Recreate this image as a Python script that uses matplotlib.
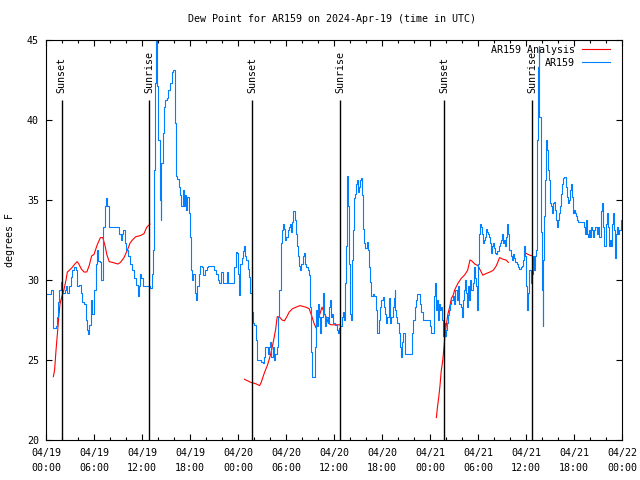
import numpy as np
import matplotlib
matplotlib.use('Agg')
import matplotlib.pyplot as plt

# hours since 04/19 00:00 UTC
obs_hours = [0.0, 0.6, 0.67, 0.88, 1.2, 1.33, 1.46, 1.67, 1.83, 2.0, 2.17, 2.33, 2.5, 2.67, 2.88,
             3.08, 3.29, 3.5, 3.71, 3.83, 4.13, 4.33, 4.54, 4.75, 4.96, 5.17, 5.29, 5.38, 5.58, 5.79,
             6.0, 6.21, 6.33, 6.5, 6.75, 6.83, 7.04, 7.17, 7.33, 7.5, 7.67, 7.88, 9.0, 9.17, 9.33,
             9.5, 9.67, 9.83, 10.0, 10.25, 10.5, 10.75, 11.0, 11.25, 11.5, 11.67, 11.75, 11.92, 12.08,
             12.25, 13.0, 13.2, 13.33, 13.5, 13.6, 13.75, 13.83, 14.0, 14.25, 14.33, 14.42, 14.58,
             14.75, 14.88, 15.08, 15.29, 15.5, 15.7, 15.9, 16.1, 16.25, 16.42, 16.58, 16.75, 16.92,
             17.08, 17.25, 17.38, 17.5, 17.67, 17.83, 18.0, 18.13, 18.25, 18.42, 18.6, 18.75, 18.9,
             19.08, 19.25, 19.46, 19.67, 19.83, 20.08, 20.3, 20.83, 21.0, 21.25, 21.5, 21.67, 21.9,
             22.1, 22.4, 22.6, 22.8, 23.3, 23.5, 23.7, 23.9, 24.0, 24.08, 24.17, 24.3, 24.46, 24.67,
             24.8, 24.92, 25.0, 25.2, 25.33, 25.5, 25.7, 25.83, 26.04, 26.25, 26.4, 26.67, 26.9,
             27.08, 27.25, 27.4, 27.58, 27.75, 27.92, 28.04, 28.17, 28.33, 28.5, 28.67, 28.83, 29.0,
             29.17, 29.33, 29.46, 29.58, 29.71, 29.83, 30.0, 30.2, 30.4, 30.54, 30.63, 30.75, 30.92,
             31.08, 31.25, 31.4, 31.54, 31.67, 31.8, 31.92, 32.08, 32.25, 32.38, 32.54, 32.7, 32.83,
             33.0, 33.13, 33.25, 33.6, 33.67, 33.75, 33.88, 34.0, 34.17, 34.3, 34.42, 34.58, 34.7,
             34.88, 35.0, 35.2, 35.42, 35.54, 35.67, 35.75, 35.88, 36.08, 36.33, 36.46, 36.58, 36.8,
             37.0, 37.13, 37.29, 37.42, 37.5, 37.58, 37.67, 37.75, 37.83, 37.96, 38.04, 38.17, 38.25,
             38.33, 38.46, 38.67, 38.79, 38.88, 39.0, 39.08, 39.25, 39.38, 39.5, 39.63, 39.75, 39.92,
             40.08, 40.2, 40.33, 40.5, 40.67, 40.83, 41.0, 41.17, 41.29, 41.42, 41.58, 41.75, 41.92,
             42.08, 42.21, 42.33, 42.5, 42.67, 42.83, 43.0, 43.17, 43.33, 43.46, 43.58, 43.67, 43.79,
             43.92, 44.08, 44.25, 44.42, 44.54, 44.67, 44.83, 44.92, 45.67, 45.79, 45.92, 46.08,
             46.25, 46.42, 46.67, 46.79, 46.92, 47.08, 47.75, 48.0, 48.17, 48.4, 48.5, 48.63, 48.71,
             48.83, 49.0, 49.13, 49.25, 49.42, 49.5, 49.63, 49.75, 49.83, 49.96, 50.13, 50.25, 50.38,
             50.54, 50.67, 50.83, 51.0, 51.17, 51.33, 51.5, 51.67, 51.83, 51.96, 52.08, 52.25, 52.38,
             52.5, 52.67, 52.79, 52.92, 53.04, 53.17, 53.33, 53.46, 53.58, 53.71, 53.83, 53.96, 54.08,
             54.2, 54.33, 54.46, 54.58, 54.71, 54.83, 54.96, 55.08, 55.2, 55.33, 55.46, 55.58, 55.71,
             55.83, 55.96, 56.08, 56.25, 56.42, 56.58, 56.75, 56.88, 57.0, 57.13, 57.29, 57.42, 57.54,
             57.67, 57.79, 57.92, 58.08, 58.25, 58.38, 58.5, 58.67, 58.83, 59.0, 59.17, 59.33, 59.5,
             59.63, 59.75, 59.88, 60.0, 60.13, 60.25, 60.42, 60.58, 60.71, 60.83, 60.96, 61.08, 61.21,
             61.33, 61.42, 61.5, 61.58, 61.67, 61.83, 61.92, 62.0, 62.08, 62.17, 62.25, 62.38, 62.5,
             62.63, 62.75, 62.88, 63.0, 63.13, 63.25, 63.38, 63.5, 63.63, 63.75, 63.88, 64.0, 64.13,
             64.25, 64.42, 64.54, 64.67, 64.79, 64.92, 65.04, 65.17, 65.29, 65.42, 65.54, 65.67,
             65.79, 65.92, 66.04, 66.17, 66.29, 66.42, 66.54, 66.83, 67.08, 67.25, 67.38, 67.5, 67.63,
             67.75, 67.88, 68.0, 68.13, 68.25, 68.38, 68.5, 68.63, 68.75, 68.88, 69.0, 69.17, 69.33,
             69.46, 69.58, 69.71, 69.88, 70.0, 70.13, 70.25, 70.38, 70.5, 70.67, 70.79, 70.92, 71.04,
             71.17, 71.29, 71.42, 71.54, 71.67, 71.83, 71.96, 72.0]
obs_dewpt = [29.1, 29.1, 29.4, 27.0, 27.1, 27.7, 28.6, 29.4, 29.9, 29.2, 29.2, 29.4, 29.6, 29.2, 29.6,
             30.2, 30.6, 30.8, 30.6, 29.6, 29.7, 29.2, 28.6, 28.5, 27.5, 26.9, 26.6, 27.2, 28.75, 27.9,
             29.4, 31.0, 31.9, 31.2, 31.1, 30.0, 30.0, 33.3, 34.6, 35.1, 34.6, 33.3, 33.3, 32.9, 32.5,
             32.9, 33.1, 32.3, 31.9, 31.5, 31.0, 30.6, 30.1, 29.7, 29.0, 29.6, 30.4, 30.1, 29.6,
             29.6, 29.5, 30.4, 31.9, 36.9, 42.3, 45.0, 42.1, 38.75, 35.0, 33.75, 37.3, 39.2,
             40.8, 41.25, 41.35, 41.9, 42.3, 43.0, 43.1, 39.8, 36.5, 36.3, 35.8, 35.3, 34.6,
             35.6, 34.6, 35.3, 34.4, 35.2, 34.2, 32.7, 30.6, 30.0, 30.4, 29.2, 28.75, 29.6,
             30.4, 30.9, 30.8, 30.3, 30.6, 30.8, 30.9, 30.9, 30.6, 30.4, 30.0, 29.8, 30.5,
             29.8, 29.8, 30.5, 29.8, 29.8, 30.8, 31.75, 31.7, 30.4, 29.8, 29.06, 31.0, 31.4, 31.8,
             32.1, 31.5, 31.25, 30.7, 30.2, 29.2, 28.0, 27.3, 27.2, 26.25, 25.0, 25.0, 24.9,
             24.8, 25.2, 25.8, 25.8, 25.4, 25.8, 26.1, 25.2, 25.8, 25.0, 25.4, 25.8, 27.7,
             29.4, 32.3, 33.1, 33.5, 33.2, 32.5, 32.7, 33.1, 33.3, 33.5, 33.0, 33.6, 34.3,
             33.75, 32.9, 32.1, 31.5, 30.9, 30.6, 31.0, 31.5, 31.7, 31.0, 30.8, 30.6, 30.3,
             28.3, 25.5, 23.95, 24.0, 25.8, 28.1, 27.1, 28.5, 27.7, 26.7, 27.7, 29.2, 27.9,
             27.1, 27.7, 27.3, 28.3, 28.75, 27.7, 27.9, 27.3, 27.2, 26.9, 26.7, 27.0, 27.1,
             27.7, 28.0, 27.5, 29.8, 32.1, 34.4, 36.5, 34.6, 31.0, 28.75, 27.9, 27.5, 31.25,
             33.1, 35.1, 35.4, 36.0, 36.25, 35.5, 35.8, 36.25, 36.4, 35.3, 33.2, 32.3, 32.0,
             32.4, 31.9, 30.8, 29.9, 29.0, 29.1, 29.0, 29.0, 28.1, 26.7, 27.5, 28.3, 28.75,
             28.95, 28.3, 27.9, 27.3, 27.7, 28.85, 27.3, 27.7, 28.3, 28.85, 29.4, 28.1, 27.7,
             27.3, 26.7, 25.8, 25.2, 26.1, 26.7, 26.25, 25.4, 25.4, 26.7, 27.5, 28.3,
             28.75, 29.1, 29.1, 28.5, 28.0, 27.5, 27.5, 27.1, 26.7, 26.7, 29.0, 29.8, 28.1,
             28.75, 27.5, 28.5, 28.1, 28.3, 27.5, 26.5, 27.3, 26.5, 26.9, 27.3, 27.8, 28.1,
             28.5, 28.75, 29.0, 28.5, 29.4, 28.75, 29.6, 28.5, 28.3, 27.7, 28.75, 29.4, 30.0,
             29.2, 28.3, 29.6, 28.75, 30.0, 29.4, 29.8, 30.8, 30.1, 29.6, 28.1, 31.0, 32.9,
             33.5, 33.3, 32.9, 32.3, 32.5, 32.7, 33.2, 33.0, 32.9, 32.7, 32.3, 31.7, 32.1,
             32.3, 32.0, 31.7, 31.6, 31.8, 32.1, 32.3, 32.5, 32.9, 32.3, 32.5, 32.1, 32.7,
             33.5, 32.9, 31.9, 31.5, 31.25, 31.6, 31.35, 31.15, 31.0, 30.8, 30.7, 30.8, 30.9,
             31.25, 32.1, 31.5, 29.6, 28.1, 29.2, 30.6, 29.8, 30.4, 31.5, 30.6, 31.5, 31.9,
             33.5, 38.75, 43.3, 44.6, 40.2, 36.9, 33.0, 29.4, 27.1, 31.25, 34.0, 36.25, 38.75,
             38.1, 36.9, 36.25, 34.8, 34.6, 34.2, 34.8, 34.9, 34.4, 33.75, 33.3, 33.75, 34.2,
             34.6, 35.4, 36.0, 36.35, 36.45, 36.45, 35.8, 35.2, 34.8, 35.0, 35.6, 36.0,
             35.2, 34.2, 34.4, 34.2, 34.0, 33.75, 33.6, 33.6, 33.6, 33.3, 32.9, 33.75, 32.9,
             32.7, 33.1, 32.7, 33.3, 33.1, 32.7, 33.1, 33.3, 33.3, 32.9, 33.3, 32.7, 34.3,
             34.8, 33.3, 32.1, 32.1, 33.5, 34.2, 33.3, 32.1, 32.5, 32.1, 33.5, 34.2, 33.1,
             31.35, 32.9, 33.3, 32.9, 33.1, 33.75, 33.3, 33.6]

# analysis, gaps where no analysis was available
ana_hours = [0.92, 1.08, 1.25, 1.4, 1.6, 1.75, 2.0, 2.25, 2.5, 2.67, 2.9, 3.3, 3.6, 3.9, 4.1, 4.4,
             4.75, 5.1, 5.4, 5.7, 6.0, 6.4, 6.8, 7.1, 7.4, 7.6, 7.9, 8.3, 9.0, 9.3, 9.75, 10.2, 10.5,
             10.8, 11.2, 11.6, 11.9, 12.25, 12.6, 13.0, 18.0,
             24.8, 25.2, 25.6, 26.0, 26.3, 26.7, 26.9, 27.3, 27.7, 28.1, 28.4, 28.7, 28.9, 29.17,
             29.5, 29.8, 30.1, 30.4, 30.8, 31.25, 31.75, 32.1, 32.5, 32.9, 33.25, 33.5, 33.75, 34.0,
             34.25, 34.5, 34.67, 34.8, 35.1, 35.3, 35.6, 36.0, 36.8, 42.0,
             48.8, 48.92, 49.1, 49.25, 49.4, 49.6, 49.75, 49.9, 50.1, 50.25, 50.5, 50.67, 50.9, 51.1,
             51.5, 51.9, 52.3, 52.7, 53.0, 53.2, 53.6, 54.0, 54.3, 54.6, 55.0, 55.5, 55.9, 56.3, 56.7,
             57.1, 57.5, 57.8, 59.0,
             59.9, 60.25, 60.5, 60.8]
ana_dewpt = [23.96, 24.4, 25.6, 26.5, 27.7, 28.5, 29.0, 29.4, 30.0, 30.5, 30.6, 30.8, 31.0, 31.15,
             31.0, 30.7, 30.5, 30.5, 30.9, 31.5, 31.6, 32.2, 32.65, 32.65, 32.1, 31.6, 31.15, 31.1,
             31.0, 31.1, 31.4, 31.9, 32.3, 32.5, 32.7, 32.75, 32.8, 32.9, 33.3, 33.5, np.nan,
             23.8, 23.7, 23.6, 23.55, 23.5, 23.4, 23.6, 24.2, 24.7, 25.4, 26.1, 26.9, 27.7, 27.7,
             27.5, 27.45, 27.7, 28.0, 28.2, 28.3, 28.4, 28.35, 28.3, 28.2, 27.7, 27.3, 27.0, 27.6,
             27.9, 28.3, 28.1, 27.9, 27.6, 27.3, 27.2, 27.2, 27.2, np.nan,
             21.4, 22.0, 22.7, 23.4, 24.3, 25.0, 25.8, 26.7, 27.4, 27.9, 28.4, 28.85, 29.06, 29.4,
             29.8, 30.1, 30.3, 30.6, 31.25, 31.2, 31.0, 30.9, 30.6, 30.3, 30.4, 30.5, 30.6, 30.9,
             31.4, 31.3, 31.25, 31.1, np.nan,
             31.7, 31.6, 31.55, 31.5]

sun_hours = [1.96, 12.9, 25.79, 36.8, 49.8, 60.8]
sun_labels = ['Sunset', 'Sunrise', 'Sunset', 'Sunrise', 'Sunset', 'Sunrise']

tick_hours = list(range(0, 73, 6))
tick_labels = ['04/19\n00:00', '04/19\n06:00', '04/19\n12:00', '04/19\n18:00',
               '04/20\n00:00', '04/20\n06:00', '04/20\n12:00', '04/20\n18:00',
               '04/21\n00:00', '04/21\n06:00', '04/21\n12:00', '04/21\n18:00',
               '04/22\n00:00']

plt.rcParams['font.family'] = 'DejaVu Sans Mono'
plt.rcParams['font.size'] = 7.2

fig = plt.figure(figsize=(6.4, 4.8), dpi=100)
ax = fig.add_axes([46/640, 40/480, 576/640, 400/480])

ax.plot(ana_hours, ana_dewpt, color='#ff0000', lw=0.8, label='AR159 Analysis')
ax.plot(obs_hours, obs_dewpt, color='#0080ff', lw=0.8, drawstyle='steps-post', label='AR159')

ax.vlines(sun_hours, 20, 41.25, color='black', lw=1)
for h, lab in zip(sun_hours, sun_labels):
    ax.text(h, 41.7, lab, rotation=90, ha='center', va='bottom')

ax.set_xlim(0, 72)
ax.set_ylim(20, 45)
ax.set_xticks(tick_hours)
ax.set_xticklabels(tick_labels, linespacing=1.55)
ax.set_xticks(np.arange(0, 73, 2), minor=True)
ax.set_yticks([20, 25, 30, 35, 40, 45])
ax.tick_params(which='both', direction='in', top=True, right=True, width=0.8)
ax.tick_params(axis='x', pad=6)
ax.tick_params(axis='y', pad=5)
ax.tick_params(which='major', length=4.3)
ax.tick_params(which='minor', length=2.5)
for s in ax.spines.values():
    s.set_linewidth(0.8)

ax.legend(loc='upper right', bbox_to_anchor=(1 - 7/576, 1), frameon=False, markerfirst=False,
          handlelength=2.8, handletextpad=0.7, borderaxespad=0.3, labelspacing=0.3, borderpad=0.2)

fig.text(332/640, 1 - 19/480, 'Dew Point for AR159 on 2024-Apr-19 (time in UTC)',
         ha='center', va='center')
fig.text(10/640, 0.5, 'degrees F', rotation=90, ha='center', va='center')

fig.savefig('out.png', dpi=100)
